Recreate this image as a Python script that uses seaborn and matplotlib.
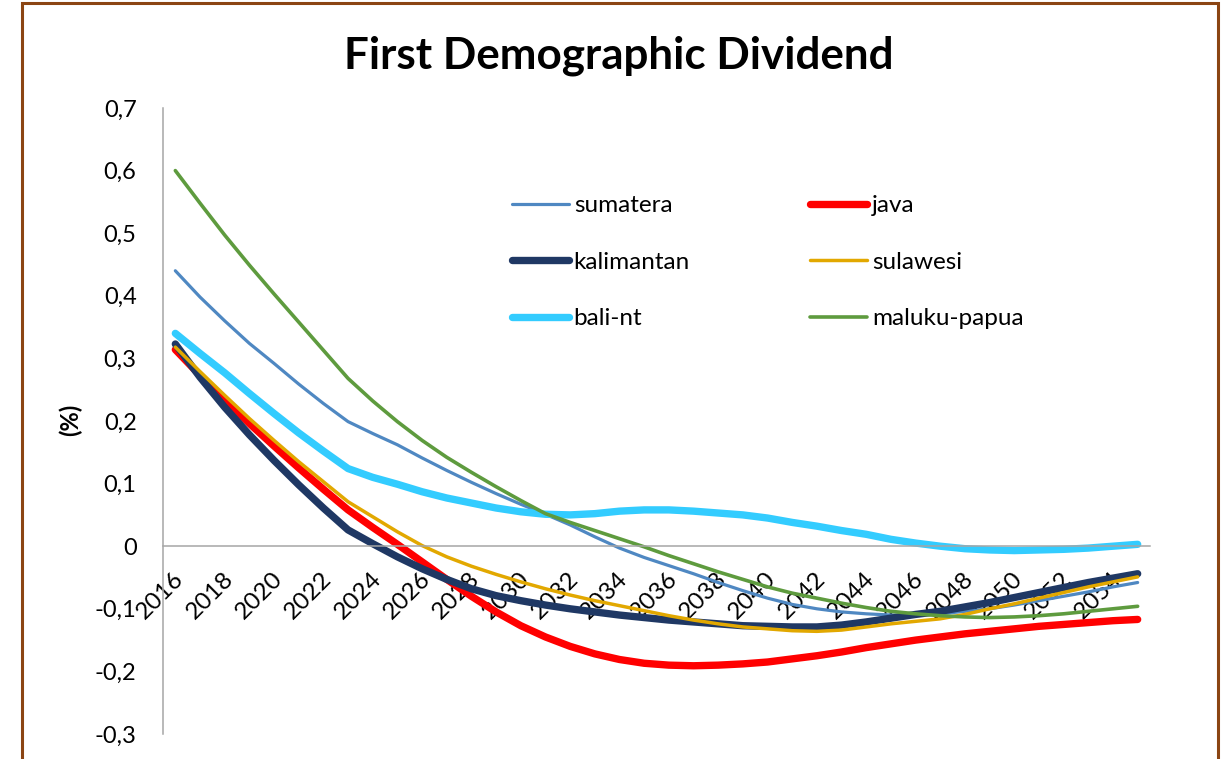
import matplotlib
matplotlib.use("Agg")
import matplotlib.pyplot as plt
import seaborn as sns
import pandas as pd
from matplotlib.ticker import FuncFormatter, MultipleLocator
from matplotlib.patches import Rectangle
from matplotlib.transforms import ScaledTranslation

# ---- data -------------------------------------------------------------
years = list(range(2016, 2056))

sumatera = [0.440, 0.398, 0.360, 0.324, 0.292, 0.259, 0.228, 0.199, 0.180, 0.162,
            0.141, 0.121, 0.102, 0.084, 0.067, 0.051, 0.034, 0.015, -0.003, -0.018,
            -0.031, -0.044, -0.058, -0.071, -0.083, -0.093, -0.100, -0.105, -0.108, -0.110,
            -0.110, -0.108, -0.104, -0.100, -0.094, -0.087, -0.080, -0.073, -0.065, -0.058]

java = [0.314, 0.273, 0.234, 0.196, 0.160, 0.125, 0.091, 0.058, 0.030, 0.003,
        -0.025, -0.053, -0.080, -0.105, -0.127, -0.145, -0.160, -0.172, -0.181, -0.187,
        -0.190, -0.191, -0.190, -0.188, -0.185, -0.180, -0.175, -0.169, -0.162, -0.156,
        -0.150, -0.145, -0.140, -0.136, -0.132, -0.128, -0.125, -0.122, -0.119, -0.117]

kalimantan = [0.323, 0.270, 0.222, 0.178, 0.137, 0.098, 0.061, 0.026, 0.004, -0.017,
              -0.036, -0.053, -0.068, -0.079, -0.087, -0.094, -0.100, -0.105, -0.110, -0.114,
              -0.118, -0.121, -0.124, -0.127, -0.128, -0.129, -0.129, -0.126, -0.121, -0.115,
              -0.109, -0.104, -0.097, -0.090, -0.082, -0.074, -0.066, -0.058, -0.051, -0.044]

sulawesi = [0.318, 0.279, 0.241, 0.204, 0.169, 0.135, 0.103, 0.071, 0.047, 0.023,
            0.001, -0.017, -0.032, -0.045, -0.057, -0.068, -0.078, -0.087, -0.095, -0.103,
            -0.111, -0.118, -0.124, -0.129, -0.132, -0.135, -0.136, -0.134, -0.129, -0.124,
            -0.120, -0.116, -0.109, -0.100, -0.092, -0.083, -0.074, -0.065, -0.057, -0.049]

bali_nt = [0.340, 0.308, 0.277, 0.244, 0.212, 0.181, 0.152, 0.124, 0.110, 0.099,
           0.087, 0.077, 0.069, 0.061, 0.055, 0.051, 0.050, 0.052, 0.056, 0.058,
           0.058, 0.056, 0.053, 0.050, 0.045, 0.038, 0.032, 0.025, 0.019, 0.011,
           0.005, 0.000, -0.004, -0.006, -0.007, -0.006, -0.005, -0.003, 0.000, 0.003]

maluku_papua = [0.600, 0.548, 0.497, 0.449, 0.403, 0.358, 0.313, 0.268, 0.232, 0.199,
                0.169, 0.142, 0.118, 0.095, 0.073, 0.052, 0.038, 0.025, 0.012, -0.001,
                -0.015, -0.028, -0.041, -0.053, -0.065, -0.075, -0.083, -0.091, -0.098, -0.104,
                -0.108, -0.111, -0.113, -0.114, -0.113, -0.111, -0.108, -0.104, -0.100, -0.096]

series_names = ["sumatera", "java", "kalimantan", "sulawesi", "bali-nt", "maluku-papua"]
series_values = [sumatera, java, kalimantan, sulawesi, bali_nt, maluku_papua]
year_labels = [str(y) for y in years[::2]]

# ---- styling ------------------------------------------------------------
colors = {
    "sumatera": "#4F88C2",
    "java": "#FF0000",
    "kalimantan": "#1F3864",
    "sulawesi": "#E2A800",
    "bali-nt": "#33CCFF",
    "maluku-papua": "#5E9B3E",
}
widths = {
    "sumatera": 2.3,
    "java": 5.3,
    "kalimantan": 5.3,
    "sulawesi": 2.5,
    "bali-nt": 5.3,
    "maluku-papua": 2.6,
}

sns.set_style("white")
plt.rcParams["font.family"] = ["Lato", "DejaVu Sans"]
plt.rcParams["text.color"] = "black"
plt.rcParams["xtick.color"] = "black"
plt.rcParams["ytick.color"] = "black"

df = pd.DataFrame({"year": years * len(series_names),
                   "region": [n for n in series_names for _ in years],
                   "value": [v for vals in series_values for v in vals]})

W, H = 1225, 759
fig = plt.figure(figsize=(W / 100, H / 100), dpi=100)
ax = fig.add_axes([163 / W, 1 - 734 / H, 987 / W, 626 / H])

for name in series_names:
    sub = df[df["region"] == name]
    sns.lineplot(data=sub, x="year", y="value", ax=ax, color=colors[name],
                 linewidth=widths[name], label=name, solid_capstyle="round",
                 solid_joinstyle="round")

# axis frame: category axis crosses the value axis at zero
for side in ("top", "right"):
    ax.spines[side].set_visible(False)
ax.spines["bottom"].set_position(("data", 0))
for side in ("left", "bottom"):
    ax.spines[side].set_color("#A6A6A6")
    ax.spines[side].set_linewidth(1.1)

ax.set_xlim(years[0] - 0.5, years[-1] + 0.5)
ax.set_ylim(-0.3, 0.7)
ax.yaxis.set_major_locator(MultipleLocator(0.1))
ax.yaxis.set_major_formatter(FuncFormatter(
    lambda v, _: "0" if abs(v) < 1e-9 else f"{v:.1f}".replace(".", ",")))
ax.set_xticks(years[::2])
ax.set_xticklabels(year_labels, rotation=45, ha="right", va="center",
                   rotation_mode="anchor", color="black")
ax.tick_params(axis="x", length=0, pad=21, labelsize=17.5, labelcolor="black")
ax.tick_params(axis="y", length=0, pad=19, labelsize=17, labelcolor="black")
shift = ScaledTranslation(5 / 100, 0, fig.dpi_scale_trans)
for lbl in ax.get_xticklabels():
    lbl.set_transform(lbl.get_transform() + shift)
ax.set_xlabel("")
ax.set_ylabel("")

# legend: two columns, filled row by row
handles, labels = ax.get_legend_handles_labels()
order = [0, 2, 4, 1, 3, 5]
leg = ax.legend([handles[i] for i in order], [labels[i] for i in order],
                ncol=2, frameon=False, fontsize=17.5,
                loc="upper left", bbox_to_anchor=(512 / W, 1 - 195 / H),
                bbox_transform=fig.transFigure, borderpad=0, borderaxespad=0,
                handlelength=2.35, handletextpad=0.19, columnspacing=4.95,
                labelspacing=1.46)
for line in leg.get_lines():
    line.set_solid_capstyle("round")
for t in leg.get_texts():
    t.set_color("black")

fig.text(619 / W, 1 - 68 / H, "First Demographic Dividend", ha="center",
         va="baseline", fontsize=31.7, fontweight="bold", color="black")
fig.text(70 / W, 1 - 420 / H, "(%)", rotation=90, ha="center", va="center",
         fontsize=17, fontweight="bold", color="black")

fig.patches.append(Rectangle((22 / W, -0.05), (1218 - 22) / W, 1.05 - 3 / H,
                             transform=fig.transFigure, fill=False,
                             edgecolor="#8B4513", linewidth=2.2))

fig.savefig("out.png", dpi=100)
